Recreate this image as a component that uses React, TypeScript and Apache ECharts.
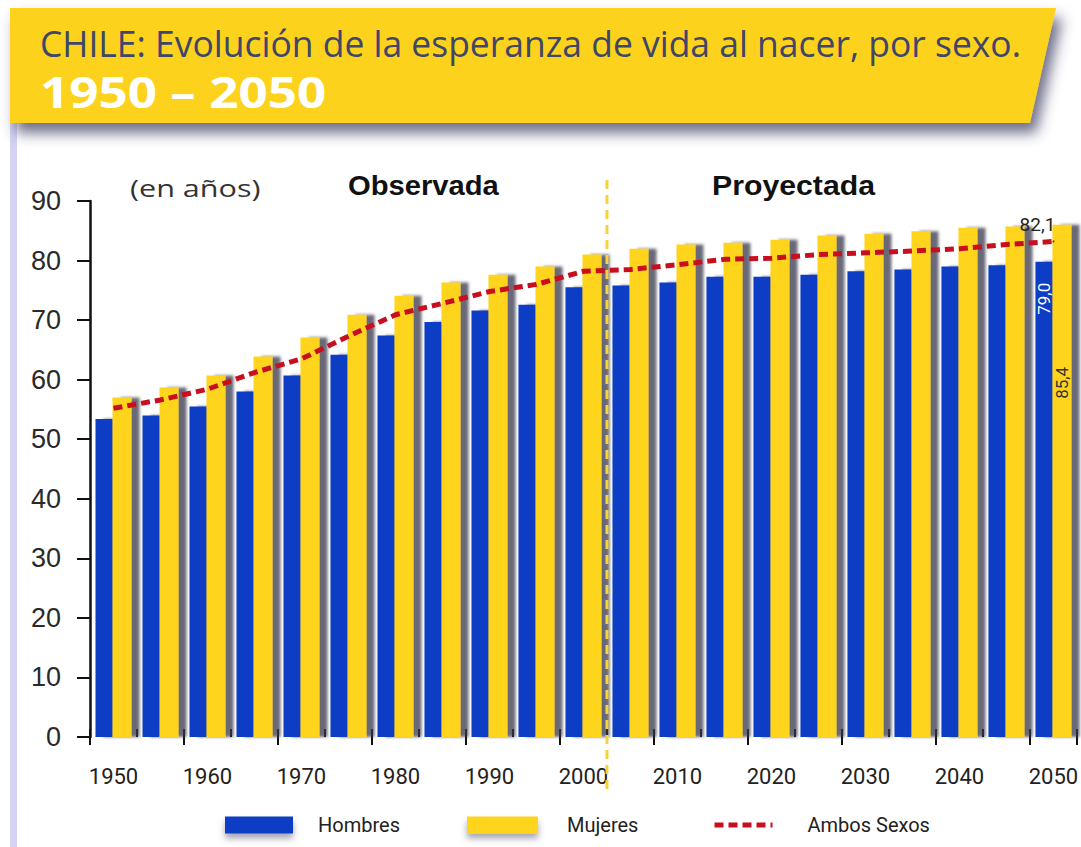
import React, { useEffect, useRef } from "react";
import * as echarts from "echarts";

const years = [
  "1950", "1955", "1960", "1965", "1970", "1975", "1980", "1985", "1990", "1995",
  "2000", "2005", "2010", "2015", "2020", "2025", "2030", "2035", "2040", "2045", "2050",
];
const hombres = [
  53.4, 54.0, 55.5, 58.0, 60.7, 64.2, 67.4, 69.7, 71.6, 72.6,
  75.5, 75.8, 76.3, 77.3, 77.3, 77.6, 78.2, 78.5, 79.0, 79.2, 79.8,
];
const mujeres = [
  57.0, 58.7, 60.7, 63.9, 67.1, 70.9, 74.1, 76.3, 77.6, 79.0,
  81.0, 82.0, 82.7, 83.0, 83.5, 84.2, 84.5, 84.9, 85.5, 85.7, 86.0,
];
const ambos = [
  55.2, 56.6, 58.4, 61.2, 63.5, 67.3, 70.9, 72.8, 74.8, 76.0,
  78.2, 78.5, 79.3, 80.2, 80.4, 81.0, 81.3, 81.6, 82.0, 82.7, 83.2,
];
const seriesNames = ["Hombres", "Mujeres", "Ambos Sexos"];
const endLabels = ["79,0", "85,4", "82,1"];
const titleText = "CHILE: Evolución de la esperanza de vida al nacer, por sexo.";
const subtitleText = "1950 – 2050";
const unitText = "(en años)";
const periodTexts = ["Observada", "Proyectada"];
const splitAfterYear = "2000";

const BLUE = "#0b3dc4";
const YELLOW = "#fed41c";
const RED = "#c70f1f";
const COND = "Roboto, 'Liberation Sans', sans-serif";

export default function App() {
  const ref = useRef<HTMLDivElement>(null);

  useEffect(() => {
    document.body.style.margin = "0";
    const chart = echarts.init(ref.current!, null, { renderer: "svg" });
    const lastIdx = years.length - 1;
    const barShadow = {
      shadowColor: "rgba(55,55,75,0.75)",
      shadowBlur: 3,
      shadowOffsetX: 8,
    };
    const legendText = { fontFamily: COND, fontSize: 20, color: "#222" };
    const option: any = {
      animation: false,
      backgroundColor: "#ffffff",
      grid: { left: 90, top: 201, width: 994, height: 536, containLabel: false },
      legend: [
        {
          data: [seriesNames[0]], left: 225, top: 815, padding: 0, icon: "rect",
          itemWidth: 68, itemHeight: 17,
          itemStyle: { shadowColor: "rgba(80,80,110,0.5)", shadowBlur: 6, shadowOffsetY: 5 },
          textStyle: { ...legendText, padding: [0, 0, 0, 20] },
        },
        {
          data: [seriesNames[1]], left: 467, top: 815, padding: 0, icon: "rect",
          itemWidth: 71, itemHeight: 17,
          itemStyle: { shadowColor: "rgba(80,80,110,0.5)", shadowBlur: 6, shadowOffsetY: 5 },
          textStyle: { ...legendText, padding: [0, 0, 0, 24] },
        },
        {
          data: [seriesNames[2]], left: 712, top: 815, padding: 0,
          itemWidth: 58, itemHeight: 17,
          itemStyle: { opacity: 0 },
          lineStyle: { color: RED, width: 5, type: [9, 5] },
          textStyle: { ...legendText, padding: [0, 0, 0, 30] },
        },
      ],
      xAxis: [
        {
          type: "category",
          data: years,
          position: "bottom",
          axisLine: {
            lineStyle: { color: "#111", width: 2.5, shadowColor: "rgba(0,0,0,0.35)", shadowBlur: 10, shadowOffsetY: 9 },
          },
          axisTick: { show: true, length: 8, lineStyle: { color: "#111", width: 2 } },
          axisLabel: {
            interval: 1,
            margin: 28,
            fontFamily: COND,
            fontSize: 22,
            color: "#222",
          },
          splitLine: { show: false },
        },
        {
          type: "category",
          data: years,
          position: "bottom",
          offset: 0,
          axisLine: { show: false },
          axisTick: { show: true, inside: true, length: 8, lineStyle: { color: "#111", width: 2 } },
          axisLabel: { show: false },
          splitLine: { show: false },
        },
      ],
      yAxis: {
        type: "value",
        min: 0,
        max: 90,
        interval: 10,
        axisLine: { show: true, lineStyle: { color: "#111", width: 2.5 } },
        axisTick: { show: true, length: 13, lineStyle: { color: "#111", width: 2 } },
        axisLabel: { margin: 29, fontFamily: "'Liberation Sans', Arial, sans-serif", fontSize: 27, color: "#2a2a2a" },
        splitLine: { show: false },
      },
      series: [
        {
          name: seriesNames[0],
          type: "bar",
          barWidth: 17,
          barGap: "0%",
          itemStyle: { color: BLUE, ...barShadow },
          data: hombres.map((v, i) =>
            i === lastIdx
              ? {
                  value: v,
                  label: {
                    show: true, position: "insideTop", rotate: 90, align: "right", verticalAlign: "middle",
                    distance: 21, formatter: endLabels[0], color: "#ffffff", fontFamily: COND, fontSize: 17,
                  },
                }
              : v
          ),
        },
        {
          name: seriesNames[1],
          type: "bar",
          barWidth: 19,
          barGap: "0%",
          itemStyle: { color: YELLOW, ...barShadow },
          data: mujeres.map((v, i) =>
            i === lastIdx
              ? {
                  value: v,
                  label: {
                    show: true, position: "insideTop", rotate: 90, align: "right", verticalAlign: "middle",
                    distance: 142, formatter: endLabels[1], color: "#333", fontFamily: COND, fontSize: 17,
                  },
                }
              : v
          ),
        },
        {
          name: seriesNames[2],
          type: "line",
          symbol: "none",
          z: 5,
          lineStyle: { color: RED, width: 5, type: [9, 5] },
          itemStyle: { color: RED },
          data: ambos.map((v, i) =>
            i === lastIdx
              ? {
                  value: v,
                  symbol: "circle",
                  symbolSize: 2,
                  label: {
                    show: true, position: "top", distance: 6, offset: [-16, 0],
                    formatter: endLabels[2], color: "#222", fontFamily: COND, fontSize: 19,
                  },
                }
              : v
          ),
        },
      ],
    };
    chart.setOption(option);

    const xa = chart.convertToPixel({ xAxisIndex: 0 }, splitAfterYear) as number;
    const nextYear = years[years.indexOf(splitAfterYear) + 1];
    const xb = chart.convertToPixel({ xAxisIndex: 0 }, nextYear) as number;
    const splitX = (xa + xb) / 2;

    chart.setOption({
      graphic: {
        elements: [
          {
            type: "rect", z: -1, shape: { x: 10, y: 120, width: 7, height: 727 },
            style: { fill: "#d3d3f4" },
          },
          {
            type: "polygon", z: 10,
            shape: { points: [[10, 8], [1056, 8], [1030, 123], [10, 123]] },
            style: {
              fill: "#fdd21d",
              shadowColor: "rgba(60,60,100,0.75)", shadowBlur: 14, shadowOffsetX: 6, shadowOffsetY: 10,
            },
          },
          {
            type: "text", z: 11, x: 40, y: 43, scaleX: 0.985,
            style: {
              text: titleText, fill: "#3f4669", fontFamily: "'Open Sans', sans-serif", fontSize: 36,
              verticalAlign: "middle",
            },
          },
          {
            type: "text", z: 11, x: 40, y: 91, scaleX: 1.19,
            style: {
              text: subtitleText, fill: "#ffffff", fontFamily: "'Open Sans', sans-serif", fontWeight: "bold", fontSize: 43,
              verticalAlign: "middle",
            },
          },
          {
            type: "text", z: 11, x: 130, y: 188, scaleX: 1.33,
            style: {
              text: unitText, fill: "#333", fontFamily: "'Open Sans', sans-serif", fontSize: 23, verticalAlign: "middle",
            },
          },
          {
            type: "text", z: 11, x: 348, y: 186, scaleX: 1.08,
            style: {
              text: periodTexts[0], fill: "#111", fontFamily: "'Liberation Sans', Arial, sans-serif", fontWeight: "bold", fontSize: 27,
              verticalAlign: "middle",
            },
          },
          {
            type: "text", z: 11, x: 712, y: 186, scaleX: 1.12,
            style: {
              text: periodTexts[1], fill: "#111", fontFamily: "'Liberation Sans', Arial, sans-serif", fontWeight: "bold", fontSize: 27,
              verticalAlign: "middle",
            },
          },
          {
            type: "line", z: 20,
            shape: { x1: splitX, y1: 180, x2: splitX, y2: 792 },
            style: { stroke: "#f4d43a", lineWidth: 3, lineDash: [9, 6] },
          },
        ],
      },
    });

    return () => chart.dispose();
  }, []);

  return <div ref={ref} style={{ width: 1081, height: 847 }} />;
}
